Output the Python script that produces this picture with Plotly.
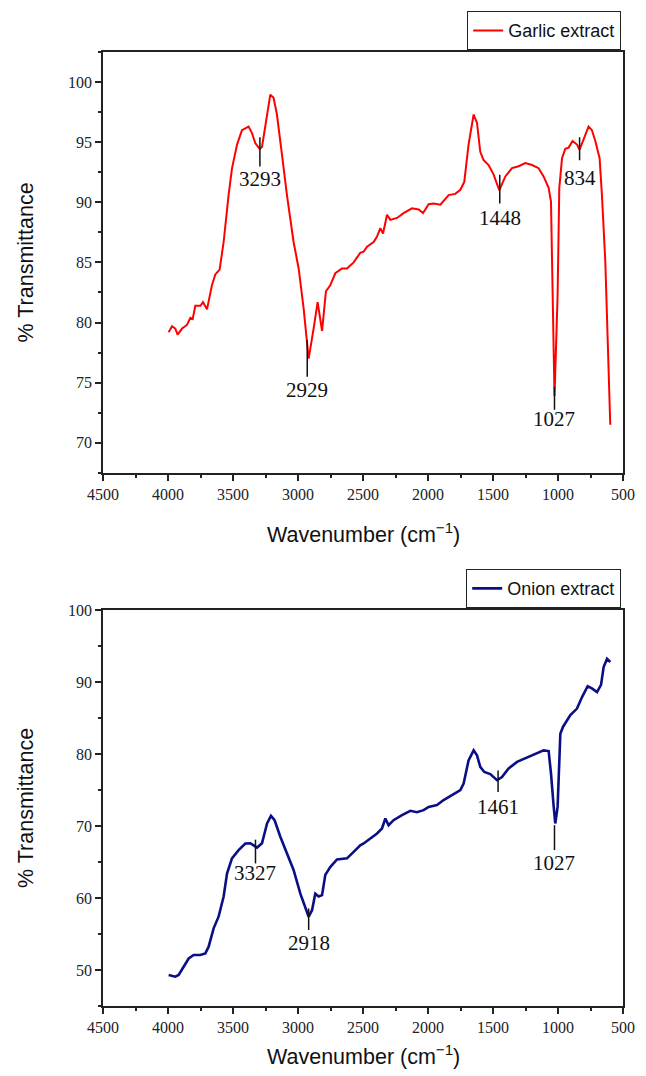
import plotly.graph_objects as go

# ---------------- data ----------------
garlic_wn = [3995, 3969, 3944, 3926, 3892, 3854, 3828, 3810, 3790, 3750, 3731, 3700, 3662, 3636, 3603,
             3572, 3534, 3508, 3469, 3431, 3380, 3354, 3328, 3295, 3277, 3252, 3213, 3188, 3162, 3123,
             3085, 3034, 2995, 2957, 2918, 2880, 2849, 2815, 2785, 2752, 2713, 2662, 2623, 2572, 2521,
             2495, 2469, 2418, 2392, 2367, 2346, 2315, 2290, 2238, 2188, 2123, 2072, 2038, 1995, 1957,
             1905, 1841, 1790, 1751, 1721, 1688, 1649, 1623, 1598, 1572, 1534, 1495, 1452, 1405, 1354,
             1303, 1252, 1200, 1149, 1111, 1072, 1054, 1041, 1031, 1027, 1022, 1003, 990, 969, 944,
             918, 888, 854, 834, 803, 765, 739, 713, 680, 662, 636, 611, 598]
garlic_t = [79.2, 79.7, 79.5, 79.0, 79.5, 79.8, 80.4, 80.3, 81.4, 81.4, 81.7, 81.1, 83.1, 84.0, 84.4,
            86.7, 90.6, 92.8, 94.8, 96.0, 96.3, 95.75, 94.9, 94.45, 94.6, 96.2, 98.95, 98.7, 97.3, 93.95,
            90.6, 86.7, 84.5, 81.2, 77.0, 79.5, 81.7, 79.3, 82.6, 83.1, 84.1, 84.5, 84.5, 85.0, 85.8,
            85.9, 86.3, 86.7, 87.15, 87.85, 87.4, 88.96, 88.54, 88.7, 89.1, 89.5, 89.4, 89.1, 89.84, 89.9,
            89.8, 90.6, 90.7, 91.04, 91.7, 94.8, 97.3, 96.6, 94.2, 93.5, 93.1, 92.3, 91.0, 92.15, 92.84,
            93.0, 93.26, 93.1, 92.84, 92.15, 91.2, 90.07, 82.3, 75.5, 73.9, 75.5, 82.3, 91.2, 93.67, 94.45,
            94.55, 95.1, 94.8, 94.37, 95.2, 96.3, 96.0, 95.1, 93.67, 90.6, 85.07, 76.7, 71.5]

onion_wn = [3995, 3944, 3918, 3880, 3841, 3803, 3752, 3713, 3688, 3649, 3611, 3572, 3546, 3508, 3457,
            3405, 3367, 3341, 3315, 3277, 3238, 3208, 3180, 3136, 3085, 3034, 2982, 2944, 2918, 2892,
            2867, 2841, 2815, 2790, 2752, 2700, 2623, 2572, 2521, 2495, 2444, 2392, 2354, 2328, 2303,
            2265, 2200, 2136, 2085, 2034, 1995, 1931, 1880, 1815, 1751, 1726, 1688, 1649, 1623, 1598,
            1567, 1521, 1469, 1431, 1380, 1315, 1238, 1162, 1111, 1072, 1054, 1033, 1021, 1003, 982,
            962, 905, 854, 815, 772, 739, 700, 669, 649, 623, 598]
onion_t = [49.3, 49.07, 49.3, 50.46, 51.6, 52.08, 52.08, 52.3, 53.2, 55.78, 57.4, 60.2, 63.4, 65.5, 66.65,
           67.57, 67.6, 67.3, 67.0, 67.6, 70.35, 71.4, 70.8, 68.5, 66.2, 63.9, 60.6, 58.55, 57.4, 58.3,
           60.6, 60.2, 60.4, 63.2, 64.3, 65.35, 65.5, 66.4, 67.3, 67.57, 68.3, 68.96, 69.65, 71.04, 70.1,
           70.8, 71.5, 72.1, 71.9, 72.2, 72.65, 72.9, 73.6, 74.3, 74.97, 75.9, 79.1, 80.5, 79.8, 78.2,
           77.5, 77.2, 76.35, 76.8, 78.0, 78.9, 79.5, 80.1, 80.5, 80.4, 77.3, 72.65, 70.35, 72.65, 82.8,
           83.75, 85.4, 86.3, 87.9, 89.4, 89.1, 88.6, 89.6, 92.07, 93.2, 92.76]

# peak markers: wavenumber, marker line top / bottom (%T), label centre (%T)
garlic_peaks = [3293, 2929, 1448, 1027, 834]
garlic_peak_top = [95.4, 78.55, 92.3, 74.66, 95.4]
garlic_peak_bot = [92.97, 75.5, 89.9, 72.75, 93.5]
garlic_label_t = [91.9, 74.4, 88.7, 72.0, 92.0]

onion_peaks = [3327, 2918, 1461, 1027]
onion_peak_top = [68.1, 58.55, 77.7, 70.1]
onion_peak_bot = [64.8, 55.55, 74.7, 66.65]
onion_label_t = [63.4, 53.7, 72.65, 64.8]

x_ticks = [4500, 4000, 3500, 3000, 2500, 2000, 1500, 1000, 500]

# ---------------- layout geometry ----------------
W, H = 646, 1076
ML, MR, MT, MB = 103, 23, 51, 70
PH = H - MT - MB
PW = W - ML - MR


def py_to_paper(py):
    return (H - MB - py) / PH


def px_to_paper(px):
    return (px - ML) / PW


top_dom = [py_to_paper(472.3), 1.0]
bot_dom = [0.0, py_to_paper(609.5)]

SERIF = "Liberation Serif, Times New Roman, serif"
SANS = "Liberation Sans, Arial, sans-serif"

fig = go.Figure()
fig.add_trace(go.Scatter(x=garlic_wn, y=garlic_t, mode="lines", name="Garlic extract",
                         line=dict(color="#ff0000", width=2), xaxis="x", yaxis="y",
                         legend="legend"))
fig.add_trace(go.Scatter(x=onion_wn, y=onion_t, mode="lines", name="Onion extract",
                         line=dict(color="#0a0f85", width=2.6), xaxis="x2", yaxis="y2",
                         legend="legend2"))

axis_common = dict(showline=True, linecolor="#222", linewidth=1.5, mirror=True,
                   ticks="outside", ticklen=6, tickwidth=1.5, tickcolor="#222",
                   showgrid=False, zeroline=False,
                   tickfont=dict(family=SERIF, size=16, color="#222"))

xax = dict(axis_common, range=[4500, 500], tickvals=x_ticks,
           minor=dict(dtick=250, tick0=500, ticks="outside", ticklen=3, tickwidth=1.5, tickcolor="#222"))

fig.update_layout(
    width=W, height=H, paper_bgcolor="white", plot_bgcolor="white",
    margin=dict(l=ML, r=MR, t=MT, b=MB),
    xaxis=dict(xax, anchor="y", domain=[0, 1]),
    xaxis2=dict(xax, anchor="y2", domain=[0, 1]),
    yaxis=dict(axis_common, domain=top_dom, range=[67.5, 102.5], tick0=70, dtick=5, anchor="x",
               minor=dict(dtick=2.5, tick0=70, ticks="outside", ticklen=3, tickwidth=1.5, tickcolor="#222")),
    yaxis2=dict(axis_common, domain=bot_dom, range=[45, 100], tick0=50, dtick=10, anchor="x2",
                minor=dict(dtick=5, tick0=50, ticks="outside", ticklen=3, tickwidth=1.5, tickcolor="#222")),
    legend=dict(x=px_to_paper(621), xanchor="right", y=py_to_paper(11), yanchor="top",
                bordercolor="#222", borderwidth=1.2, bgcolor="white", itemwidth=30,
                font=dict(family=SANS, size=18, color="#111")),
    legend2=dict(x=px_to_paper(621), xanchor="right", y=py_to_paper(569), yanchor="top",
                 bordercolor="#222", borderwidth=1.2, bgcolor="white", itemwidth=30,
                 font=dict(family=SANS, size=18, color="#111")),
    showlegend=True,
)

annotations = []
shapes = []
for wn, y0, y1, yl in zip(garlic_peaks, garlic_peak_top, garlic_peak_bot, garlic_label_t):
    shapes.append(dict(type="line", xref="x", yref="y", x0=wn, x1=wn, y0=y0, y1=y1,
                       line=dict(color="#111", width=1.5)))
    annotations.append(dict(xref="x", yref="y", x=wn, y=yl, text=str(wn), showarrow=False,
                            xanchor="center", yanchor="middle",
                            font=dict(family=SERIF, size=21, color="#111")))
for wn, y0, y1, yl in zip(onion_peaks, onion_peak_top, onion_peak_bot, onion_label_t):
    shapes.append(dict(type="line", xref="x2", yref="y2", x0=wn, x1=wn, y0=y0, y1=y1,
                       line=dict(color="#111", width=1.5)))
    annotations.append(dict(xref="x2", yref="y2", x=wn, y=yl, text=str(wn), showarrow=False,
                            xanchor="center", yanchor="middle",
                            font=dict(family=SERIF, size=21, color="#111")))

xtitle = "Wavenumber (cm<sup>−1</sup>)"
for yc in (533, 1055):
    annotations.append(dict(xref="paper", yref="paper", x=px_to_paper(363), y=py_to_paper(yc),
                            text=xtitle, showarrow=False, xanchor="center", yanchor="middle",
                            font=dict(family=SANS, size=21.5, color="#111")))
for dom in (top_dom, bot_dom):
    annotations.append(dict(xref="paper", yref="paper", x=px_to_paper(26), y=(dom[0] + dom[1]) / 2,
                            text="% Transmittance", showarrow=False, textangle=-90,
                            xanchor="center", yanchor="middle",
                            font=dict(family=SANS, size=21.5, color="#111")))

fig.update_layout(annotations=annotations, shapes=shapes)

fig.write_html(
    "out.html",
    config={"displayModeBar": False},
    post_script="document.body.style.margin='0';document.body.style.overflow='hidden';",
)
